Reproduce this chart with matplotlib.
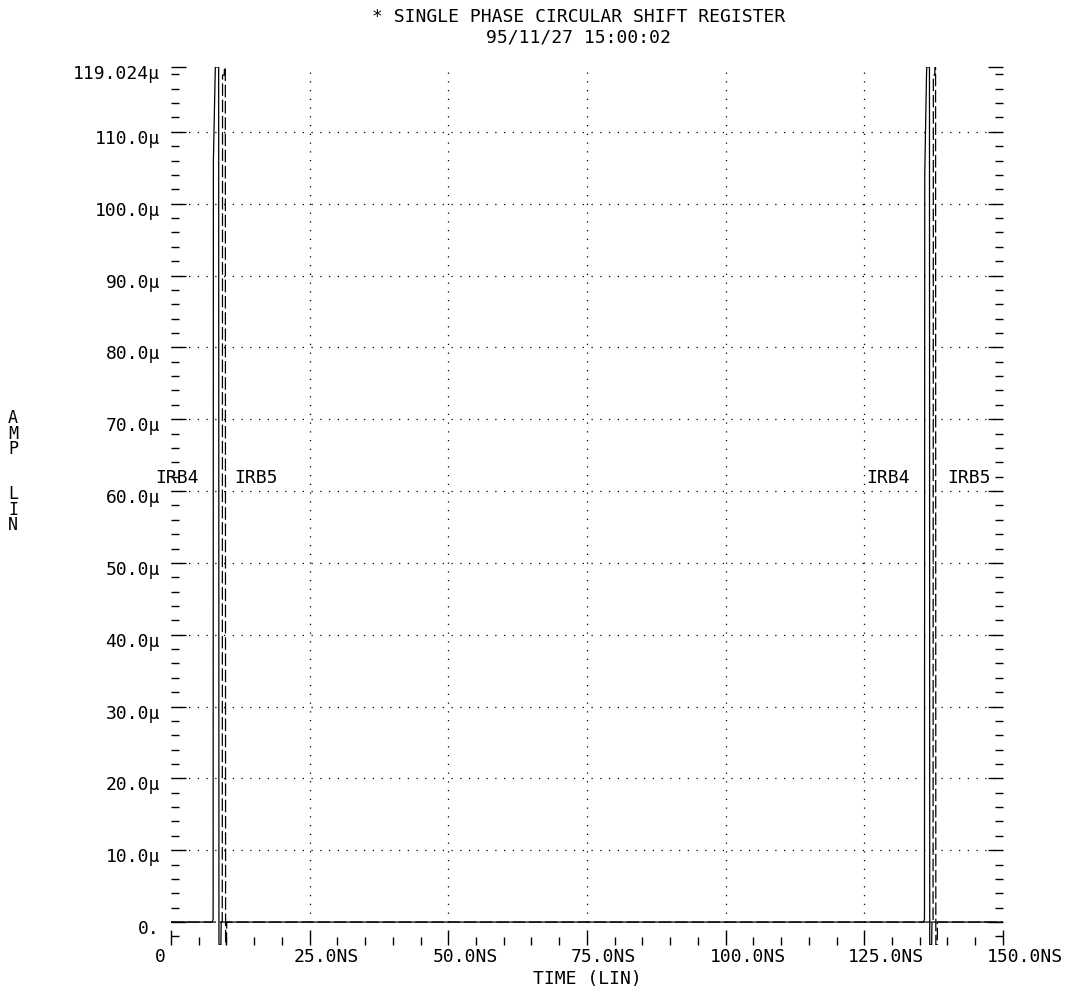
import matplotlib
matplotlib.use("Agg")
import matplotlib.pyplot as plt
from matplotlib.transforms import ScaledTranslation

plt.rcParams['font.family'] = ['DejaVu Sans Mono']

# transient data (time in ns, current in uA)
irb4_t = [0, 7.45, 7.6, 7.65, 7.95, 8.0, 8.6, 8.65, 9.0, 9.05,
          135.7, 135.85, 135.9, 136.2, 136.25, 136.75, 136.8, 137.15, 137.2, 150]
irb4_v = [0, 0, 0.4, 106, 117.2, 119.024, 119.024, -3.2, -3.2, 0,
          0, 0.4, 104, 117.2, 119.024, 119.024, -3.2, -3.2, 0, 0]
irb5_t = [0, 9.25, 9.3, 9.6, 9.65, 9.8, 9.85, 10.0, 10.05,
          137.4, 137.45, 137.7, 137.75, 137.85, 137.9, 138.15, 138.2, 150]
irb5_v = [0, 0, 117.9, 117.9, 119.0, 119.0, -3.2, -3.2, 0,
          0, 117.9, 117.9, 119.0, 119.0, -3.2, -3.2, 0, 0]

xticks = [0, 25, 50, 75, 100, 125, 150]
xlabels = ['0', '25.0NS', '50.0NS', '75.0NS', '100.0NS', '125.0NS', '150.0NS']
yticks = [0, 10, 20, 30, 40, 50, 60, 70, 80, 90, 100, 110, 119.024]
ylabels = ['0.', '10.0\u00b5', '20.0\u00b5', '30.0\u00b5', '40.0\u00b5', '50.0\u00b5',
           '60.0\u00b5', '70.0\u00b5', '80.0\u00b5', '90.0\u00b5', '100.0\u00b5',
           '110.0\u00b5', '119.024\u00b5']
xgrid = [25, 50, 75, 100, 125]
ygrid = [10, 20, 30, 40, 50, 60, 70, 80, 90, 100, 110]
xminor = [t for t in range(5, 150, 5) if t % 25 != 0]
yminor = [v for v in range(-2, 119, 2) if v % 10 != 0]

label_pos = [(-2.9, 'IRB4'), (11.4, 'IRB5'), (125.3, 'IRB4'), (139.9, 'IRB5')]
label_y = 61.8

fig = plt.figure(figsize=(10.91, 9.93), dpi=100)
ax = fig.add_axes([0.1567, 0.0483, 0.7626, 0.8842])
ax.set_xlim(0, 150)
ax.set_ylim(-3.2, 119.024)

dot = (0, (1, 6))
ax.hlines(ygrid, 0, 150, colors='black', linestyles=dot, linewidth=0.9)
ax.vlines(xgrid, 0, 119.024, colors='black', linestyles=dot, linewidth=0.9)

ax.plot(irb4_t, irb4_v, color='black', linewidth=0.9)
ax.plot(irb5_t, irb5_v, color='black', linewidth=0.9, dashes=(10, 3))

for x, s in label_pos:
    ax.text(x, label_y, s, fontsize=13, ha='left', va='center', clip_on=False)

for sp in ax.spines.values():
    sp.set_visible(False)

ax.set_xticks(xticks)
ax.set_xticklabels(xlabels, fontsize=13)
ax.set_xticks(xminor, minor=True)
ax.set_yticks(yticks)
ax.set_yticklabels(ylabels, fontsize=13)
ax.set_yticks(yminor, minor=True)
ax.tick_params(axis='both', which='major', direction='in', length=11, width=1, color='black')
ax.tick_params(axis='both', which='minor', direction='in', length=6, width=1, color='black')
ax.tick_params(axis='y', which='both', left=True, right=True, pad=8)
ax.tick_params(axis='x', which='both', bottom=True, top=False, pad=2)

off_x = ScaledTranslation(-16 / 100, 0, fig.dpi_scale_trans)
for lbl in ax.get_xticklabels():
    lbl.set_horizontalalignment('left')
    lbl.set_transform(lbl.get_transform() + off_x)
off_y = ScaledTranslation(0, -5 / 100, fig.dpi_scale_trans)
for lbl in ax.get_yticklabels():
    lbl.set_transform(lbl.get_transform() + off_y)

fig.text(0.53, 0.983, '* SINGLE PHASE CIRCULAR SHIFT REGISTER', ha='center', va='center', fontsize=13)
fig.text(0.53, 0.962, '95/11/27 15:00:02', ha='center', va='center', fontsize=13)
fig.text(0.538, 0.014, 'TIME (LIN)', ha='center', va='center', fontsize=13)
fig.text(0.012, 0.525, 'A\nM\nP\n\n\nL\nI\nN', ha='center', va='center', fontsize=12, linespacing=0.8)

fig.savefig('out.png', dpi=100)
